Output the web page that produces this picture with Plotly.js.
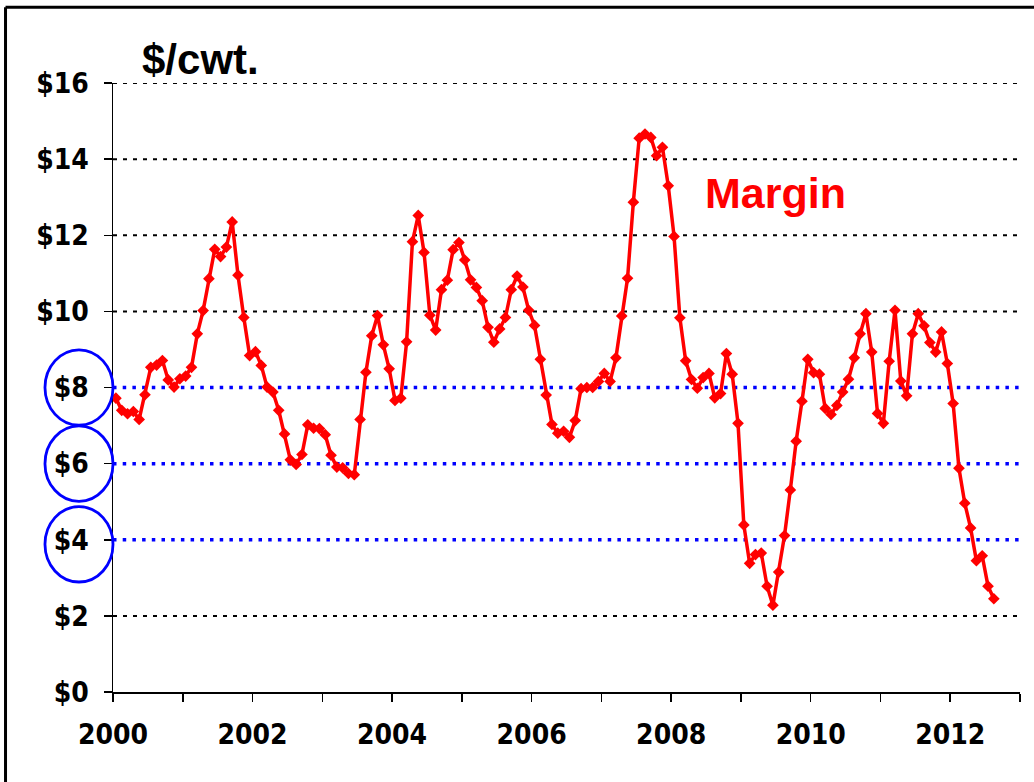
<!DOCTYPE html>
<html>
<head>
<meta charset="utf-8">
<script src="https://cdn.plot.ly/plotly-3.0.1.min.js"></script>
<style>html,body{margin:0;padding:0;background:#fff;}#chart{width:1034px;height:782px;}</style>
</head>
<body>
<div id="chart"></div>
<script>
// Monthly margin, $/cwt., Jan 2000 – Aug 2012
const startYear = 2000;
const margin = [
  7.72, 7.40, 7.31, 7.37, 7.16, 7.81, 8.53, 8.59, 8.71, 8.20, 8.01, 8.23,
  8.30, 8.53, 9.41, 10.02, 10.86, 11.63, 11.44, 11.69, 12.35, 10.95, 9.84, 8.84,
  8.94, 8.58, 8.01, 7.88, 7.40, 6.78, 6.10, 5.98, 6.24, 7.02, 6.93, 6.92,
  6.76, 6.22, 5.91, 5.89, 5.74, 5.71, 7.16, 8.40, 9.36, 9.89, 9.12, 8.49,
  7.66, 7.72, 9.20, 11.83, 12.52, 11.55, 9.90, 9.51, 10.57, 10.82, 11.62, 11.81,
  11.35, 10.83, 10.63, 10.28, 9.58, 9.19, 9.54, 9.84, 10.57, 10.93, 10.64, 10.03,
  9.63, 8.74, 7.80, 7.03, 6.80, 6.85, 6.69, 7.13, 7.97, 8.00, 8.00, 8.16,
  8.37, 8.16, 8.78, 9.88, 10.87, 12.87, 14.55, 14.66, 14.57, 14.09, 14.31, 13.30,
  11.97, 9.83, 8.70, 8.21, 7.98, 8.26, 8.37, 7.73, 7.84, 8.89, 8.35, 7.06,
  4.39, 3.38, 3.61, 3.65, 2.78, 2.28, 3.15, 4.11, 5.31, 6.59, 7.64, 8.74,
  8.39, 8.35, 7.45, 7.29, 7.53, 7.88, 8.22, 8.78, 9.41, 9.94, 8.93, 7.32,
  7.06, 8.69, 10.03, 8.17, 7.78, 9.41, 9.94, 9.62, 9.18, 8.93, 9.46, 8.63,
  7.58, 5.88, 4.96, 4.31, 3.45, 3.58, 2.78, 2.45
];
const yearTicks = [2000, 2001, 2002, 2003, 2004, 2005, 2006, 2007, 2008, 2009, 2010, 2011, 2012, 2013];
const yearLabels = ["2000", "", "2002", "", "2004", "", "2006", "", "2008", "", "2010", "", "2012", ""];
const yTicks = [0, 2, 4, 6, 8, 10, 12, 14, 16];
const yLabels = ["$0", "$2", "$4", "$6", "$8", "$10", "$12", "$14", "$16"];
const blackGridVals = [2, 10, 12, 14, 16];
const blueGridVals = [4, 6, 8];
const circledVals = [8, 6, 4];
const unitLabel = "$/cwt.";
const seriesLabel = "Margin";

const xs = margin.map((v, i) => startYear + (i + 0.5) / 12);

const trace = {
  x: xs, y: margin, type: 'scatter', mode: 'lines+markers',
  line: {color: '#FF0000', width: 3.5},
  marker: {symbol: 'diamond', size: 9, color: '#FF0000'},
  hoverinfo: 'skip', cliponaxis: false
};

const shapes = [];
blackGridVals.forEach(v => shapes.push({type: 'line', xref: 'paper', yref: 'y', x0: 0, x1: 1, y0: v, y1: v,
  line: {color: '#000', width: 2, dash: '4px,6px'}, layer: 'below'}));
blueGridVals.forEach(v => shapes.push({type: 'line', xref: 'paper', yref: 'y', x0: 0, x1: 1, y0: v, y1: v,
  line: {color: '#0000FF', width: 3.5, dash: '3.5px,6.2px'}, layer: 'below'}));
circledVals.forEach(v => {
  const c = v === 4 ? v - 0.12 : v;
  shapes.push({type: 'circle', xref: 'paper', yref: 'y', x0: -0.075, x1: 0, y0: c - 0.99, y1: c + 0.99,
    line: {color: '#0000FF', width: 2.8}});
});
// slide frame
shapes.push({type: 'line', xref: 'paper', yref: 'paper', x0: -0.1185, x1: 1.05, y0: 1.1243, y1: 1.1243, line: {color: '#000', width: 3}});
shapes.push({type: 'line', xref: 'paper', yref: 'paper', x0: -0.1185, x1: -0.1185, y0: 1.1243, y1: -0.2, line: {color: '#000', width: 3}});

const tickFont = {family: 'DejaVu Sans Condensed, DejaVu Sans', size: 28, color: '#000', weight: 'bold'};

const layout = {
  width: 1034, height: 782,
  margin: {l: 113, r: 14, t: 83, b: 90, pad: 0},
  paper_bgcolor: '#fff', plot_bgcolor: '#fff',
  showlegend: false,
  xaxis: {
    range: [2000, 2013], tickmode: 'array', tickvals: yearTicks, ticktext: yearLabels,
    ticks: 'outside', ticklen: 8, tickwidth: 1.5, tickcolor: '#000',
    showline: true, linecolor: '#000', linewidth: 2, showgrid: false, zeroline: false,
    tickfont: tickFont, ticklabelstandoff: 8, fixedrange: true
  },
  yaxis: {
    range: [0, 16], tickmode: 'array', tickvals: yTicks, ticktext: yLabels,
    ticks: 'outside', ticklen: 8, tickwidth: 1.5, tickcolor: '#000',
    showline: true, linecolor: '#000', linewidth: 1.5, showgrid: false, zeroline: false,
    tickfont: tickFont, ticklabelstandoff: 9, fixedrange: true
  },
  shapes: shapes,
  annotations: [
    {xref: 'paper', yref: 'paper', x: 0.097, y: 1.038, xanchor: 'center', yanchor: 'middle', showarrow: false,
     text: unitLabel, font: {family: 'Liberation Sans', size: 42, color: '#000', weight: 'bold'}},
    {xref: 'paper', yref: 'paper', x: 0.73, y: 0.82, xanchor: 'center', yanchor: 'middle', showarrow: false,
     text: seriesLabel, font: {family: 'Liberation Sans', size: 43, color: '#FF0000', weight: 'bold'}}
  ]
};

Plotly.newPlot('chart', [trace], layout, {displayModeBar: false, staticPlot: true});
</script>
</body>
</html>
